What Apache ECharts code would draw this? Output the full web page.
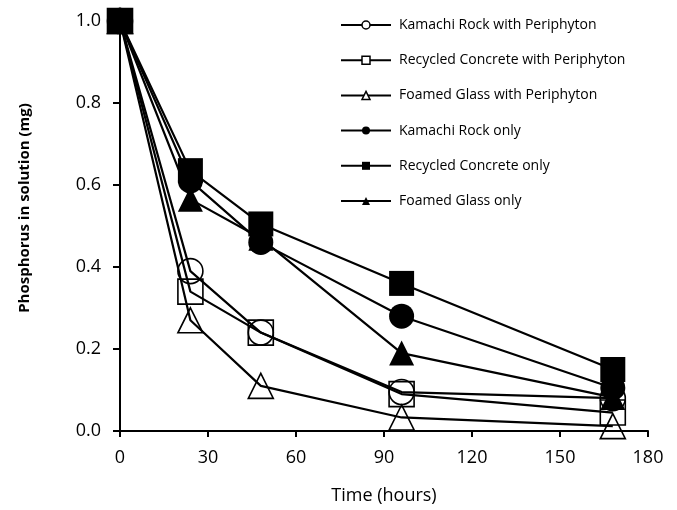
<!DOCTYPE html>
<html>
<head>
<meta charset="utf-8">
<script src="https://cdn.jsdelivr.net/npm/echarts@6/dist/echarts.min.js"></script>
<style>
html,body{margin:0;padding:0;background:#fff;}
#chart{width:677px;height:510px;}
</style>
</head>
<body>
<div id="chart"></div>
<script>
const times = [0, 24, 48, 96, 168];
const seriesNames = [
  'Kamachi Rock with Periphyton',
  'Recycled Concrete with Periphyton',
  'Foamed Glass with Periphyton',
  'Kamachi Rock only',
  'Recycled Concrete only',
  'Foamed Glass only'
];
const kamachiPeriphyton = [1.0, 0.39, 0.24, 0.095, 0.08];
const concretePeriphyton = [1.0, 0.34, 0.24, 0.09, 0.045];
const glassPeriphyton = [1.0, 0.27, 0.11, 0.033, 0.012];
const kamachiOnly = [1.0, 0.61, 0.46, 0.28, 0.105];
const concreteOnly = [1.0, 0.635, 0.505, 0.36, 0.15];
const glassOnly = [1.0, 0.565, 0.47, 0.19, 0.082];
const xTicks = [0, 30, 60, 90, 120, 150, 180];
const yTicks = [0.0, 0.2, 0.4, 0.6, 0.8, 1.0];

const valuesList = [kamachiPeriphyton, concretePeriphyton, glassPeriphyton, kamachiOnly, concreteOnly, glassOnly];
const symbols = ['circle', 'rect', 'triangle', 'circle', 'rect', 'triangle'];
const hollow = [true, true, true, false, false, false];

const chart = echarts.init(document.getElementById('chart'), null, {renderer: 'canvas'});
const font = 'Open Sans';

const series = seriesNames.map((name, i) => ({
  name: name,
  type: 'line',
  data: times.map((t, j) => [t, valuesList[i][j]]),
  symbol: symbols[i],
  symbolSize: 25,
  showAllSymbol: true,
  animation: false,
  lineStyle: {color: '#000', width: 2.2},
  itemStyle: hollow[i]
    ? {color: 'rgba(255,255,255,0)', borderColor: '#000', borderWidth: 1.6}
    : {color: '#000', borderColor: '#000', borderWidth: 0},
  emphasis: {disabled: true}
}));

const legendData = seriesNames.map((name, i) => hollow[i]
  ? {name: name, itemStyle: {color: '#fff', borderColor: '#000', borderWidth: 1.5}}
  : {name: name, itemStyle: {color: '#000'}});

chart.setOption({
  animation: false,
  backgroundColor: '#fff',
  grid: {left: 120, right: 29, top: 21, bottom: 77, containLabel: false},
  legend: {
    orient: 'vertical',
    left: 340,
    top: 17,
    padding: 0,
    itemWidth: 50,
    itemHeight: 10,
    itemGap: 19.2,
    data: legendData,
    textStyle: {fontFamily: font, fontSize: 14, color: '#000', lineHeight: 16, padding: [0, 0, 0, 3]}
  },
  xAxis: {
    type: 'value',
    min: 0,
    max: 180,
    interval: 30,
    name: 'Time (hours)',
    nameLocation: 'middle',
    nameGap: 56,
    nameTextStyle: {fontFamily: font, fontSize: 18, color: '#000'},
    axisLine: {lineStyle: {color: '#000', width: 2}},
    axisTick: {show: true, inside: false, length: 6, lineStyle: {color: '#000', width: 2}},
    axisLabel: {fontFamily: font, fontSize: 18, color: '#000', margin: 18,
      formatter: v => xTicks.includes(v) ? String(v) : ''},
    splitLine: {show: false}
  },
  yAxis: {
    type: 'value',
    min: 0,
    max: 1,
    interval: 0.2,
    name: 'Phosphorus in solution (mg)',
    nameLocation: 'middle',
    nameGap: 88,
    nameRotate: 90,
    nameTextStyle: {fontFamily: font, fontSize: 15, fontWeight: 'bold', color: '#000', padding: [0, 0, 0, 36]},
    axisLine: {show: true, lineStyle: {color: '#000', width: 2}},
    axisTick: {show: true, inside: false, length: 7, lineStyle: {color: '#000', width: 2}},
    axisLabel: {fontFamily: font, fontSize: 18, color: '#000', margin: 19,
      formatter: v => {
        const t = yTicks.find(y => Math.abs(y - v) < 1e-9);
        return t === undefined ? '' : t.toFixed(1);
      }},
    splitLine: {show: false}
  },
  series: series
});
</script>
</body>
</html>
